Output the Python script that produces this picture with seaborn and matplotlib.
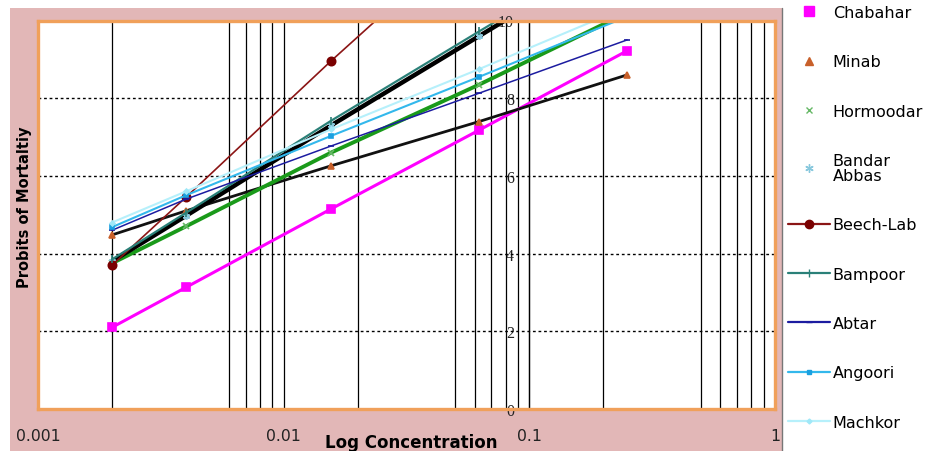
import numpy as np
import seaborn as sns
import matplotlib.pyplot as plt
from matplotlib.lines import Line2D
from matplotlib.patches import Rectangle
from matplotlib.ticker import FixedLocator, NullFormatter

# data (probit vs concentration)
conc = [0.002, 0.004, 0.0156, 0.0625, 0.25]

chabahar = [2.10, 3.13, 5.15, 7.18, 9.22]
minab = [4.48, 5.10, 6.26, 7.40, 8.60]
hormoodar = [3.75, 4.70, 6.60, 8.35, 10.2]
bandar_abbas = [3.80, 4.97, 7.30, 9.60, 11.9]
beech_lab = [3.70, 5.45, 8.96, 12.4, np.nan]
bampoor = [3.85, 5.05, 7.42, 9.72, 12.0]
abtar = [4.60, 5.40, 6.77, 8.13, 9.50]
angoori = [4.68, 5.50, 7.03, 8.55, 10.1]
machkor = [4.80, 5.60, 7.20, 8.75, 10.35]

labels = ["Chabahar", "Minab", "Hormoodar", "Bandar\nAbbas", "Beech-Lab",
          "Bampoor", "Abtar", "Angoori", "Machkor"]
values = [chabahar, minab, hormoodar, bandar_abbas, beech_lab,
          bampoor, abtar, angoori, machkor]

x_major = [0.001, 0.01, 0.1, 1]
x_major_labels = ["0.001", "0.01", "0.1", "1"]
x_minor = [0.002, 0.006, 0.007, 0.008, 0.009,
           0.02, 0.05, 0.06, 0.07, 0.08, 0.09,
           0.2, 0.5, 0.6, 0.7, 0.8, 0.9]
y_ticks = [0, 2, 4, 6, 8, 10]

# line colour, width, marker, marker colour, marker size, line in legend
styles = [
    ("#ff00ff", 2.2, "s", "#ff00ff", 6, False),
    ("#111111", 2.0, "^", "#c8602a", 4.5, False),
    ("#1a9a1a", 2.8, "x", "#66b866", 4, False),
    ("#000000", 3.2, (6, 2, 0), "#88c8dd", 5, False),
    ("#8b1515", 1.2, "o", "#7a0000", 6, True),
    ("#2a8078", 1.6, "|", "#2a8078", 6, True),
    ("#1c1ca0", 1.1, "_", "#1c1ca0", 5, True),
    ("#33b8ec", 1.5, "s", "#1aa0e0", 3, True),
    ("#b6f0fb", 1.5, "D", "#a0e8f8", 2.5, True),
]

sns.set_theme(style="white")
plt.rcParams['font.family'] = ['DejaVu Sans']

fig = plt.figure(figsize=(9.27, 4.52), dpi=100)
fig.patch.set_facecolor("white")
fig.patches.append(Rectangle((10/927, 0), 772/927, 443/452, transform=fig.transFigure,
                             facecolor="#e2b7b7", edgecolor="none", zorder=-10))
fig.lines.append(Line2D([782/927, 782/927], [0, 443/452], transform=fig.transFigure,
                        color="#777777", lw=1, zorder=-9))

ax = fig.add_axes([38/927, 42/452, 737/927, 388.5/452])
ax.set_facecolor("white")

for vals, (lc, lw, mk, mc, ms, _) in zip(values, styles):
    sns.lineplot(x=conc, y=vals, ax=ax, color=lc, lw=lw, marker=mk, ms=ms,
                 mfc=mc, mec=mc, mew=1.2, legend=False, zorder=3)

ax.set_xscale("log")
ax.set_xlim(0.001, 1)
ax.set_ylim(0, 10)
ax.set_xticks(x_major)
ax.set_xticklabels(x_major_labels)
ax.xaxis.set_minor_locator(FixedLocator(x_minor))
ax.xaxis.set_minor_formatter(NullFormatter())
ax.set_yticks(y_ticks)
ax.tick_params(axis="y", labelleft=False, length=0)
ax.tick_params(axis="x", which="both", length=0, pad=14, labelsize=11.3, labelcolor="#222222")

ax.grid(axis="x", which="both", color="black", lw=0.9)
ax.grid(axis="y", which="major", color="black", lw=1.0, ls=(0, (2, 2)))
ax.set_axisbelow(True)
for sp in ax.spines.values():
    sp.set_color("#f0a05a")
    sp.set_linewidth(2.4)
    sp.set_zorder(4)

# value axis crosses at 0.1, labels on its left side
sec = ax.secondary_yaxis(2/3)
sec.set_yticks(y_ticks)
sec.yaxis.set_ticks_position("left")
sec.tick_params(length=0, pad=11, labelleft=True, labelright=False)
for t in sec.get_yticklabels():
    t.set_fontfamily("Liberation Serif")
    t.set_fontsize(11.5)
    t.set_color("#222222")
for s in sec.spines.values():
    s.set_color("black")
    s.set_linewidth(0.9)

ax.set_xlabel("Log Concentration", fontsize=12, fontweight="bold", color="black")
ax.xaxis.set_label_coords(0.507, -0.063)
ax.set_ylabel("Probits of Mortaltiy", fontsize=10.5, fontweight="bold", color="black")
ax.yaxis.set_label_coords(-0.008, 0.522)

handles = []
for lc, lw, mk, mc, ms, show_line in styles:
    if show_line:
        handles.append(Line2D([], [], color=lc, lw=1.6, marker=mk, ms=ms,
                              mfc=mc, mec=mc))
    else:
        handles.append(Line2D([], [], ls="none", marker=mk, ms=ms + 1, mfc=mc, mec=mc, mew=1))

leg = fig.legend(handles, labels, loc="upper left", bbox_to_anchor=(788/927, 1 - 6/452),
                 frameon=False, fontsize=11.5, labelspacing=2.15, handlelength=2.6,
                 handletextpad=0.2, borderaxespad=0, borderpad=0)
for t in leg.get_texts():
    t.set_color("black")
leg.get_texts()[3].set_linespacing(1.0)

plt.savefig("out.png", dpi=100)
